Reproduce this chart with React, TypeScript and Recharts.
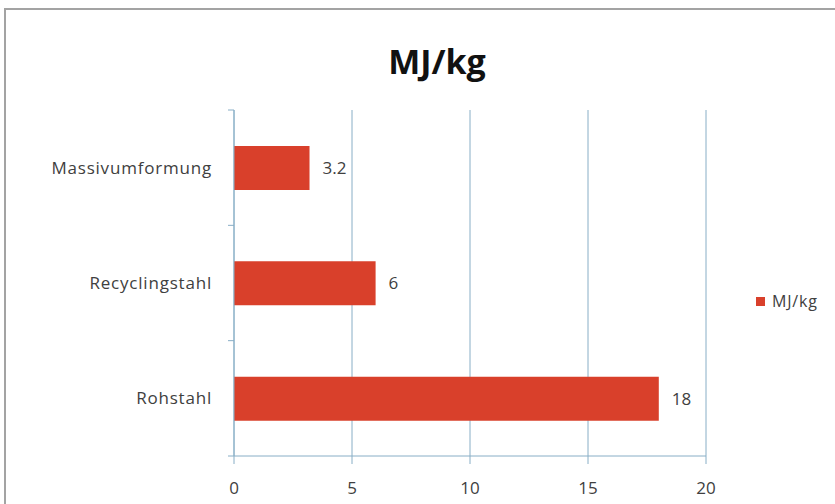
import React from "react";
import {
  BarChart,
  Bar,
  XAxis,
  YAxis,
  CartesianGrid,
  LabelList,
} from "recharts";

const categories = ["Massivumformung", "Recyclingstahl", "Rohstahl"];
const values = [3.2, 6, 18];
const xTicks = [0, 5, 10, 15, 20];
const seriesName = "MJ/kg";

const data = categories.map((name, i) => ({ name, value: values[i] }));

const W = 835;
const H = 504;
const M = { top: 110, right: 129, bottom: 8, left: 10 };
const X_AXIS_H = 40;
const Y_AXIS_W = 224;
const AXIS = "#88aec6";
const TEXT = "#404040";
const BAR = "#d9402b";
const FONT = "'Open Sans', sans-serif";

const band = (H - M.top - M.bottom - X_AXIS_H) / categories.length;

// category labels plus Excel-style tick marks at the band boundaries
function CatTick(props: any) {
  const { x, y, payload, index } = props;
  const axisX = M.left + Y_AXIS_W;
  return (
    <g>
      <line x1={axisX - 6} x2={axisX} y1={y - band / 2} y2={y - band / 2} stroke={AXIS} />
      {index === categories.length - 1 && (
        <line x1={axisX - 6} x2={axisX} y1={y + band / 2} y2={y + band / 2} stroke={AXIS} />
      )}
      <text
        x={x}
        y={y}
        dy="0.35em"
        textAnchor="end"
        fill={TEXT}
        fontSize={17}
        letterSpacing={0.8}
        fontFamily={FONT}
      >
        {payload.value}
      </text>
    </g>
  );
}

export default function App() {
  return (
    <div
      style={{
        position: "absolute",
        left: 0,
        top: 0,
        width: W,
        height: H,
        overflow: "hidden",
        background: "white",
        fontFamily: FONT,
      }}
    >
      <div
        style={{
          position: "absolute",
          left: 337,
          width: 200,
          top: 38,
          textAlign: "center",
          fontSize: 34,
          fontWeight: 700,
          color: "#111",
          fontFamily: FONT,
        }}
      >
        MJ/kg
      </div>
      <div style={{ position: "absolute", left: 0, top: 0 }}>
        <BarChart width={W} height={H} data={data} layout="vertical" margin={M}>
          <CartesianGrid horizontal={false} stroke={AXIS} />
          <XAxis
            type="number"
            domain={[0, 20]}
            ticks={xTicks}
            height={X_AXIS_H}
            stroke={AXIS}
            tickSize={8}
            tickMargin={18}
            tick={{ fill: TEXT, fontSize: 17, fontFamily: FONT }}
          />
          <YAxis
            type="category"
            dataKey="name"
            width={Y_AXIS_W}
            stroke={AXIS}
            tickLine={false}
            tickMargin={16}
            tick={<CatTick />}
          />
          <Bar dataKey="value" name={seriesName} fill={BAR} barSize={44} isAnimationActive={false}>
            <LabelList
              dataKey="value"
              position="right"
              offset={13}
              fill={TEXT}
              fontSize={17}
              fontFamily={FONT}
            />
          </Bar>
        </BarChart>
      </div>
      <div
        style={{
          position: "absolute",
          left: 756,
          top: 290,
          display: "flex",
          alignItems: "center",
          gap: 7,
          fontSize: 16,
          letterSpacing: 0.8,
          color: TEXT,
          fontFamily: FONT,
        }}
      >
        <span style={{ width: 9, height: 9, background: BAR, display: "inline-block" }} />
        <span>{seriesName}</span>
      </div>
      <div
        style={{
          position: "absolute",
          left: 4,
          top: 8,
          width: 900,
          height: 600,
          border: "2px solid #a3a3a3",
          pointerEvents: "none",
        }}
      />
    </div>
  );
}
